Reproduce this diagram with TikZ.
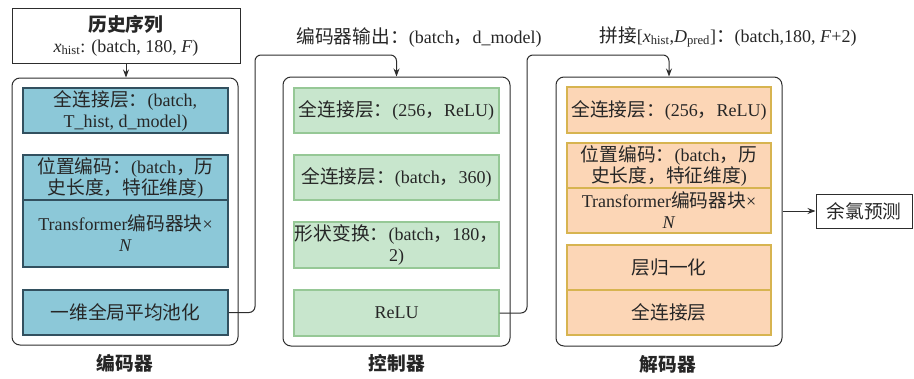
\documentclass[tikz,border=0pt]{standalone}
\usepackage{fontspec}
\setmainfont{Liberation Serif}
\newfontfamily\cjk[Scale=1.04]{Noto Sans CJK SC}
\usetikzlibrary{arrows.meta}
\definecolor{encfill}{RGB}{140,200,216}
\definecolor{encdraw}{RGB}{50,80,95}
\definecolor{ctlfill}{RGB}{200,230,205}
\definecolor{ctldraw}{RGB}{150,200,150}
\definecolor{decfill}{RGB}{252,214,182}
\definecolor{decdraw}{RGB}{215,180,80}
\definecolor{linegray}{RGB}{45,45,45}
\tikzset{
  txt/.style={font=\fontsize{18}{21}\selectfont, text=black!85},
  blk/.style={txt, draw, line width=1.2pt, rectangle, inner sep=0pt, align=center, minimum width=205pt},
  encblk/.style={blk, fill=encfill, draw=encdraw},
  ctlblk/.style={blk, fill=ctlfill, draw=ctldraw},
  decblk/.style={blk, fill=decfill, draw=decdraw, minimum width=204pt},
  group/.style={draw=linegray, line width=1pt, rounded corners=8pt, rectangle, inner sep=0pt},
  plainbox/.style={txt, draw=linegray, line width=1pt, rectangle, inner sep=0pt, align=center},
  conn/.style={draw=linegray, line width=1pt, rounded corners=6pt, -{Stealth[length=8pt,width=6pt]}},
  grouplabel/.style={txt, font=\fontsize{18}{21}\selectfont\cjk\bfseries}
}
\begin{document}
\begin{tikzpicture}[x=1pt,y=-1pt]
\useasboundingbox (0,0) rectangle (914,378);
% input box
\node[plainbox, minimum width=228pt, minimum height=55pt] (inp) at (126,35.5)
  {{\cjk\bfseries 历史序列}\\\textit{x}\textsubscript{hist}: (batch, 180, \textit{F})};
% group boxes
\node[group, minimum width=226pt, minimum height=267pt] (enc) at (125,211.5) {};
\node[group, minimum width=227pt, minimum height=269pt] (ctl) at (396.5,211.5) {};
\node[group, minimum width=226pt, minimum height=269pt] (dec) at (669,211.5) {};
% encoder blocks
\node[encblk, minimum height=45pt] (e1) at (125.5,110.5) {{\cjk 全连接层：}(batch,\\T\_hist, d\_model)};
\node[encblk, minimum height=45pt] (e2) at (125.5,177.5) {{\cjk 位置编码：}(batch{\cjk ，历}\\{\cjk 史长度，特征维度})};
\node[encblk, minimum height=67pt] (e3) at (125.5,233.5) {Transformer{\cjk 编码器块}×\\\textit{N}};
\node[encblk, minimum height=45pt] (e4) at (125.5,312.5) {{\cjk 一维全局平均池化}};
% controller blocks
\node[ctlblk, minimum height=45pt] (c1) at (396.5,110.5) {{\cjk 全连接层：}(256{\cjk ，}ReLU)};
\node[ctlblk, minimum height=45pt] (c2) at (396.5,177.5) {{\cjk 全连接层：}(batch{\cjk ，}360)};
\node[ctlblk, minimum height=46pt] (c3) at (396.5,245) {{\cjk 形状变换：}(batch{\cjk ，}180{\cjk ，}\\2)};
\node[ctlblk, minimum height=46pt] (c4) at (396.5,313) {ReLU};
% decoder blocks
\node[decblk, minimum height=46pt] (d1) at (669,110) {{\cjk 全连接层：}(256{\cjk ，}ReLU)};
\node[decblk, minimum height=45pt] (d2) at (669,165.5) {{\cjk 位置编码：}(batch{\cjk ，历}\\{\cjk 史长度，特征维度})};
\node[decblk, minimum height=45pt] (d3) at (669,210.5) {Transformer{\cjk 编码器块}×\\\textit{N}};
\node[decblk, minimum height=45pt] (d4) at (669,267.5) {{\cjk 层归一化}};
\node[decblk, minimum height=45pt] (d5) at (669,312.5) {{\cjk 全连接层}};
% output box
\node[plainbox, minimum width=96pt, minimum height=34pt] (out) at (864,211) {{\cjk 余氯预测}};
% group labels
\node[grouplabel] (lenc) at (125,363) {编码器};
\node[grouplabel] (lctl) at (397,363) {控制器};
\node[grouplabel] (ldec) at (668,364) {解码器};
% top labels
\node[txt] (lab1) at (419,37) {{\cjk 编码器输出：}(batch{\cjk ，}d\_model)};
\node[txt] (lab2) at (728,37) {{\cjk 拼接}[\textit{x}\textsubscript{hist},\textit{D}\textsubscript{pred}]{\cjk ：}(batch,180, \textit{F}+2)};
% connectors
\coordinate (k1) at (255,55);
\coordinate (k2) at (527,55);
\draw[conn] (inp.south) -- (inp.south |- enc.north);
\draw[conn] (e4.east) -| (k1) -| (ctl.north);
\draw[conn] (c4.east) -| (k2) -| (dec.north);
\draw[conn] (dec.east |- out.west) -- (out.west);
\end{tikzpicture}
\end{document}
